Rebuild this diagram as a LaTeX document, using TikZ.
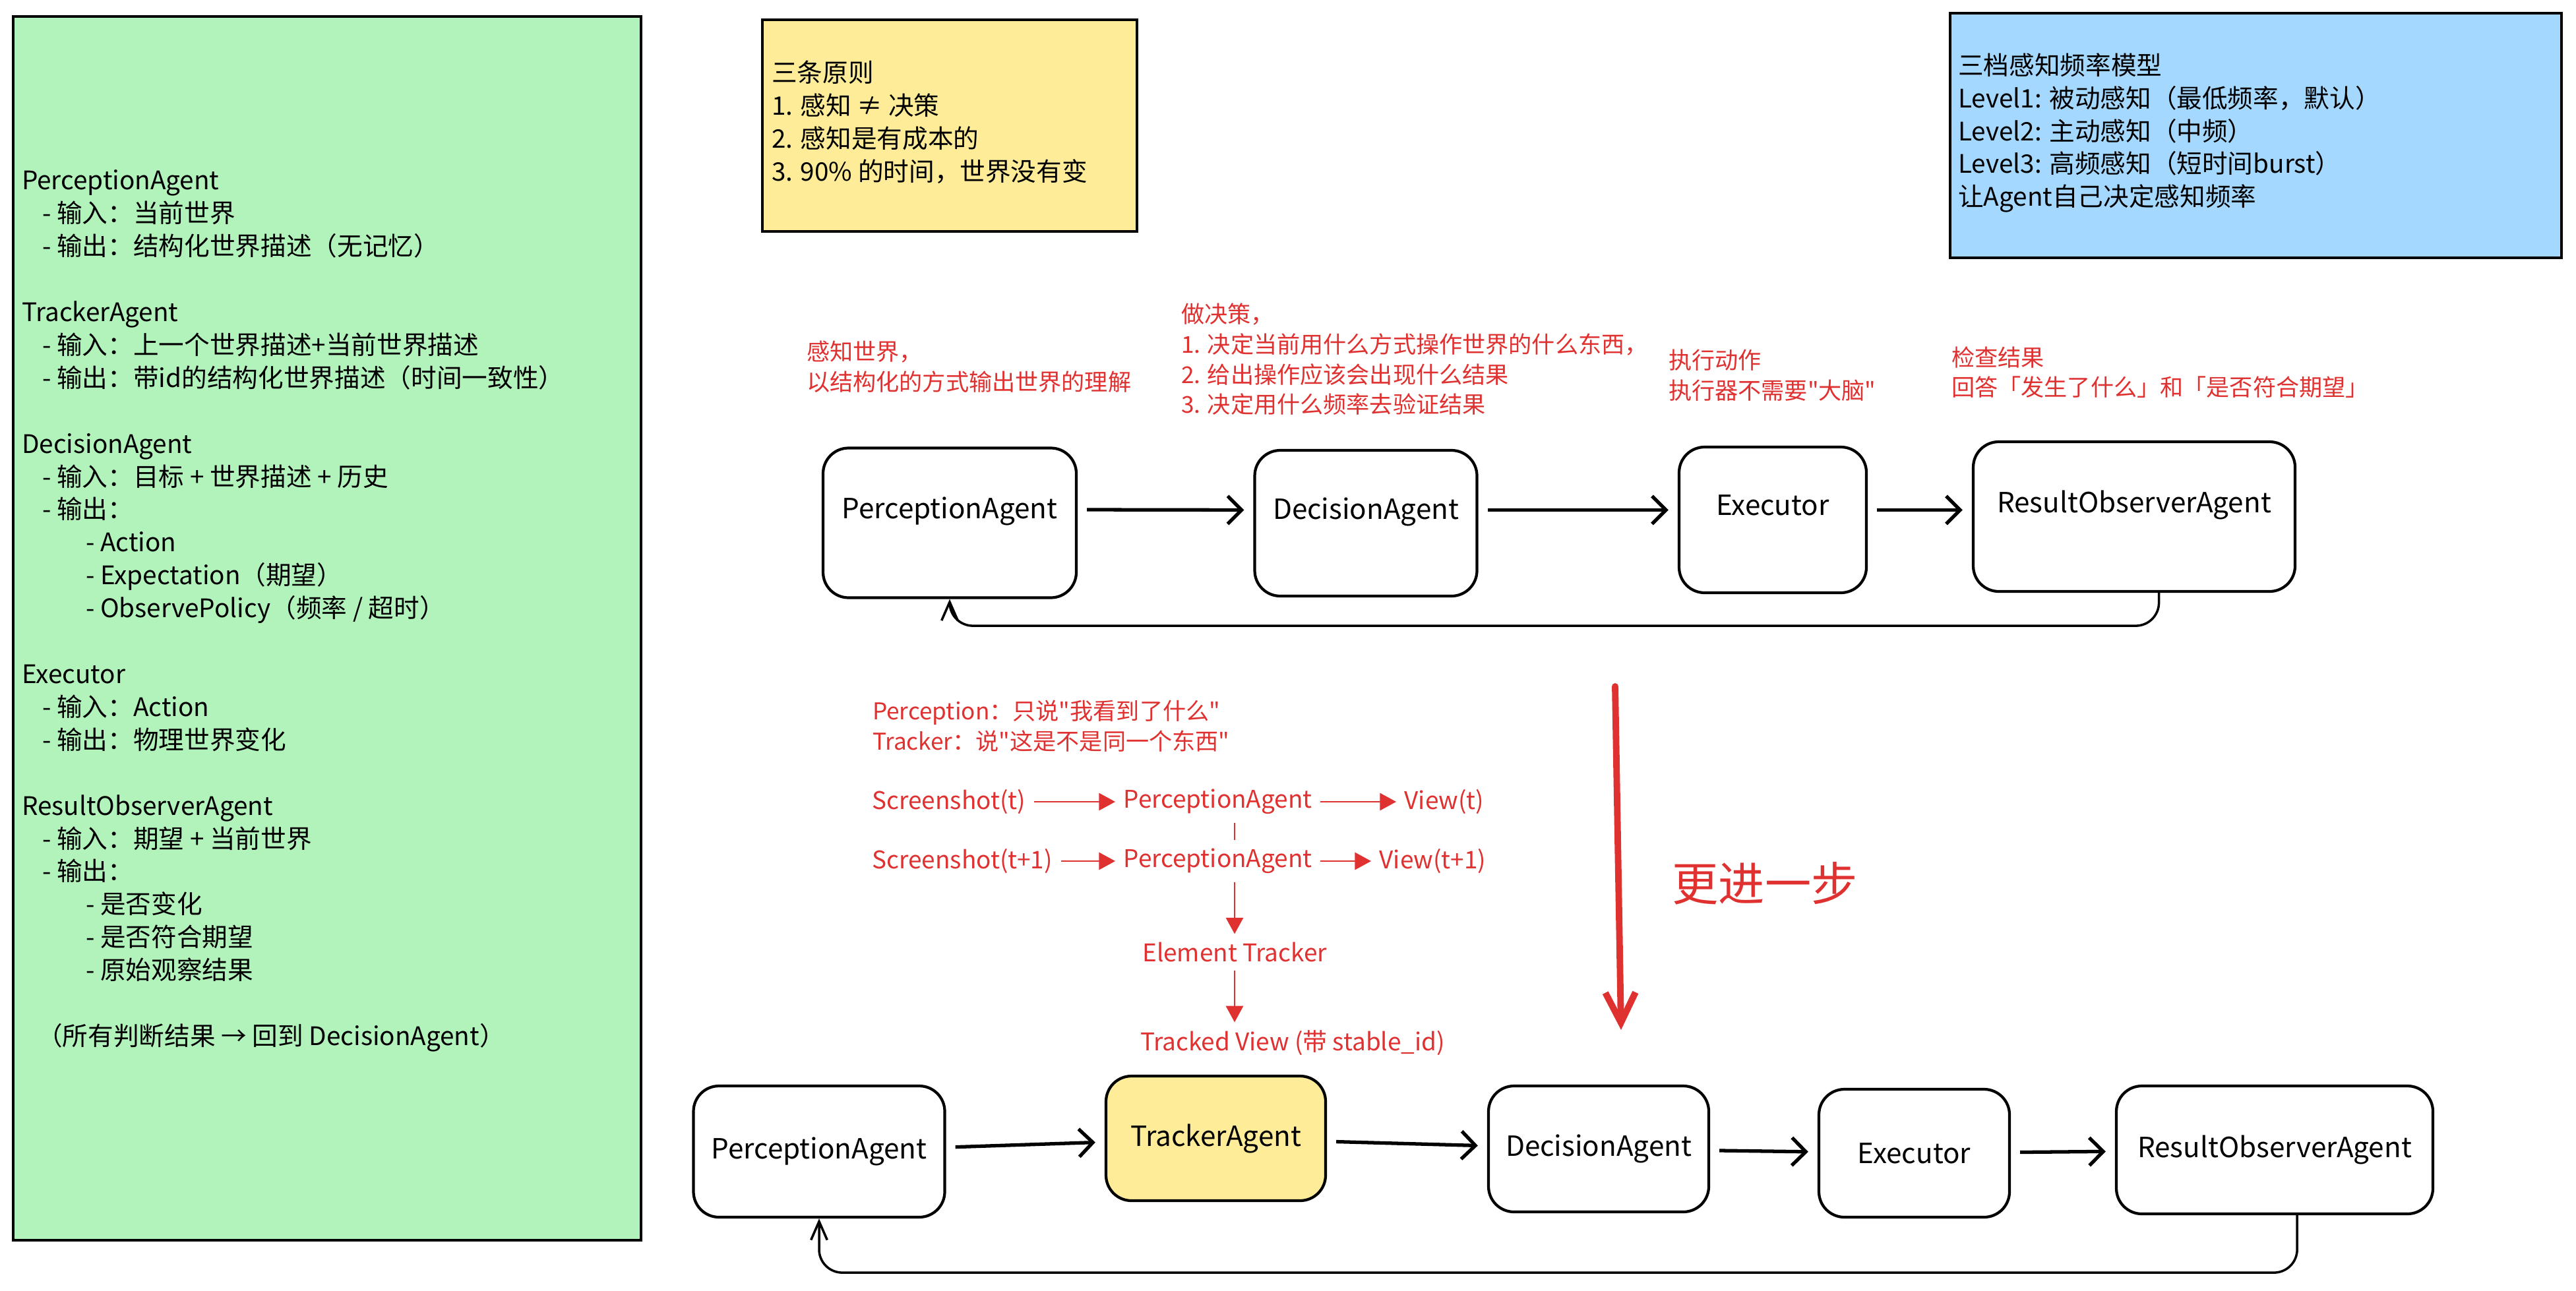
\documentclass[tikz,border=0pt]{standalone}
\usepackage{fontspec}
\setmainfont{Noto Sans CJK SC}[Ligatures=TeXOff]
\usetikzlibrary{arrows.meta,positioning}

\definecolor{notegreen}{HTML}{B2F2BB}
\definecolor{noteyellow}{HTML}{FFEC99}
\definecolor{noteblue}{HTML}{A5D8FF}
\definecolor{inkred}{HTML}{E03131}

\newcommand{\subI}{\hspace*{0.31cm}- }
\newcommand{\subII}{\hspace*{0.97cm}- }

\begin{document}
\begin{tikzpicture}[every path/.style={line width=1.2pt},
    agent/.style={draw,rounded corners=11pt,fill=white,font=\fontsize{12}{14}\selectfont},
    lift/.style={text depth=0.45cm},
    pad/.style={draw,line width=1.3pt},
    listing/.style={anchor=west,align=left,inner sep=0pt,font=\fontsize{11}{14.2}\selectfont},
    remark/.style={anchor=west,align=left,inner sep=0pt,text=inkred,font=\fontsize{10}{13}\selectfont},
    trail/.style={anchor=west,inner sep=3pt,text=inkred,font=\fontsize{10.5}{13}\selectfont},
    flow/.style={-{Straight Barb[length=6pt,width=12pt]},line width=1.5pt,shorten <=4pt,shorten >=4pt},
    back/.style={-{Straight Barb[length=8pt,width=7pt]},line width=1pt,rounded corners=10pt},
    link/.style={inkred,line width=0.5pt},
    trace/.style={inkred,line width=0.5pt,-{Triangle[length=7pt,width=7.5pt]}}]
  \useasboundingbox (0,0) rectangle (39.06,-19.57);

  \node[pad,fill=notegreen,minimum width=9.52cm,minimum height=18.56cm] (specs) at (4.96,-9.53) {};
  \node[listing] (speclist) at (0.31,-9.265) {PerceptionAgent\\
    \subI 输入：当前世界\\
    \subI 输出：结构化世界描述（无记忆）\\
    \mbox{}\\
    TrackerAgent\\
    \subI 输入：上一个世界描述+当前世界描述\\
    \subI 输出：带id的结构化世界描述（时间一致性）\\
    \mbox{}\\
    DecisionAgent\\
    \subI 输入：目标 + 世界描述 + 历史\\
    \subI 输出：\\
    \subII Action\\
    \subII Expectation（期望）\\
    \subII ObservePolicy（频率 / 超时）\\
    \mbox{}\\
    Executor\\
    \subI 输入：Action\\
    \subI 输出：物理世界变化\\
    \mbox{}\\
    ResultObserverAgent\\
    \subI 输入：期望 + 当前世界\\
    \subI 输出：\\
    \subII 是否变化\\
    \subII 是否符合期望\\
    \subII 原始观察结果\\
    \mbox{}\\
    \hspace*{0.23cm}（所有判断结果 → 回到 DecisionAgent）};

  \node[pad,fill=noteyellow,minimum width=5.68cm,minimum height=3.21cm] (rules) at (14.40,-1.905) {};
  \node[listing] (rulelist) at (11.68,-1.855) {三条原则\\
    1. 感知 ≠ 决策\\
    2. 感知是有成本的\\
    3. 90\% 的时间，世界没有变};

  \node[pad,fill=noteblue,minimum width=9.27cm,minimum height=3.71cm] (levels) at (34.205,-2.055) {};
  \node[listing] (levellist) at (29.67,-2.015) {三档感知频率模型\\
    Level1: 被动感知（最低频率，默认）\\
    Level2: 主动感知（中频）\\
    Level3: 高频感知（短时间burst）\\
    让Agent自己决定感知频率};

  \node[remark] (senseNote) at (12.21,-5.565) {感知世界，\\以结构化的方式输出世界的理解};
  \node[remark] (decideNote) at (17.89,-5.45) {做决策，\\
    1. 决定当前用什么方式操作世界的什么东西，\\
    2. 给出操作应该会出现什么结果\\
    3. 决定用什么频率去验证结果};
  \node[remark] (actNote) at (25.28,-5.69) {执行动作\\执行器不需要"大脑"};
  \node[remark] (checkNote) at (29.57,-5.645) {检查结果\\回答「发生了什么」和「是否符合期望」};

  \node[agent,lift,minimum width=3.84cm,minimum height=2.27cm] (P1) at (14.40,-7.93) {PerceptionAgent};
  \node[agent,lift,minimum width=3.37cm,minimum height=2.21cm] (D1) at (20.71,-7.935) {DecisionAgent};
  \node[agent,lift,minimum width=2.84cm,minimum height=2.21cm] (E1) at (26.88,-7.885) {Executor};
  \node[agent,lift,minimum width=4.88cm,minimum height=2.27cm] (R1) at (32.36,-7.835) {ResultObserverAgent};

  \draw[flow] ([yshift=0.2cm]P1.east) -- ([yshift=0.2cm]D1.west);
  \draw[flow] ([yshift=0.2cm]D1.east) -- ([yshift=0.15cm]E1.west);
  \draw[flow] ([yshift=0.15cm]E1.east) -- ([yshift=0.1cm]R1.west);
  \draw[back] (R1.-72) -- ++(0,-0.5) -| (P1.south);

  \node[remark] (roles) at (13.21,-11.01) {Perception：只说"我看到了什么"\\Tracker：说"这是不是同一个东西"};

  \node[trail] (shot1) at (13.10,-12.16) {Screenshot(t)};
  \node[trail] (perc1) at (16.91,-12.16) {PerceptionAgent};
  \node[trail] (view1) at (21.17,-12.16) {View(t)};
  \node[trail] (shot2) at (13.10,-13.06) {Screenshot(t+1)};
  \node[trail] (perc2) at (16.91,-13.06) {PerceptionAgent};
  \node[trail] (view2) at (20.79,-13.06) {View(t+1)};
  \node[trail,anchor=center] (elem) at (18.72,-14.44) {Element Tracker};
  \node[trail,anchor=center] (tracked) at (19.60,-15.82) {Tracked View (带 stable\_id)};

  \draw[trace] (shot1) -- (perc1);
  \draw[trace] (perc1) -- (view1);
  \draw[trace] (shot2) -- (perc2);
  \draw[trace] (perc2) -- (view2);
  \draw[link] (perc1.south -| elem) -- (perc2.north -| elem);
  \draw[trace] (perc2.south -| elem) -- (elem);
  \draw[trace] (elem) -- (elem |- tracked.north);

  \coordinate (stepTop) at (24.49,-10.41);
  \coordinate (stepEnd) at (24.58,-15.62);
  \draw[inkred,line width=2.8pt,line cap=round,-{Straight Barb[length=13pt,width=13pt]}] (stepTop) -- (stepEnd);
  \node[text=inkred,font=\fontsize{20}{24}\selectfont] (further) at (26.76,-13.40) {更进一步};

  \node[agent,minimum width=3.81cm,minimum height=1.99cm] (P2) at (12.42,-17.465) {PerceptionAgent};
  \node[agent,fill=noteyellow,minimum width=3.33cm,minimum height=1.89cm] (T2) at (18.435,-17.265) {TrackerAgent};
  \node[agent,minimum width=3.34cm,minimum height=1.91cm] (D2) at (24.24,-17.425) {DecisionAgent};
  \node[agent,minimum width=2.89cm,minimum height=1.94cm] (E2) at (29.025,-17.49) {Executor};
  \node[agent,minimum width=4.80cm,minimum height=1.94cm] (R2) at (34.49,-17.44) {ResultObserverAgent};

  \draw[flow] (P2) -- (T2);
  \draw[flow] (T2) -- (D2);
  \draw[flow] (D2) -- (E2);
  \draw[flow] (E2) -- (R2);
  \draw[back] (R2.-71) -- ++(0,-0.87) -| (P2.south);
\end{tikzpicture}
\end{document}
